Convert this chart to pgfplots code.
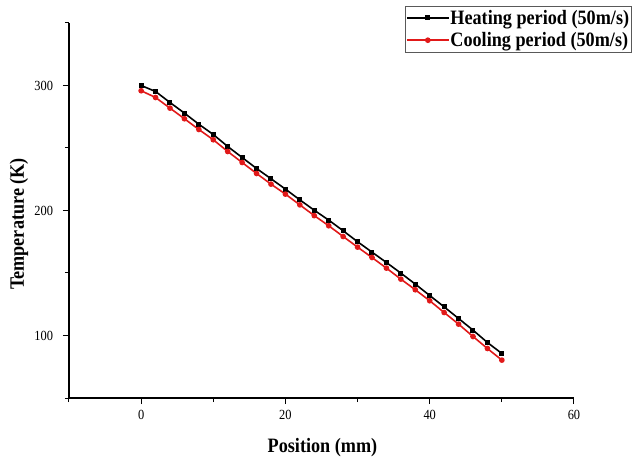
\documentclass[border=0pt]{standalone}
\usepackage{fontspec}
\setmainfont{Liberation Serif}[FakeStretch=0.89]
\usepackage{pgfplots}
\pgfplotsset{compat=1.18}
\usepackage{pgfplotstable}
\definecolor{myred}{RGB}{225,25,25}
\pgfplotstableread{
x y
0 300.0
2 295.2
4 286.4
6 277.9
8 269.0
10 260.8
12 251.2
14 242.4
16 233.6
18 225.4
20 217.1
22 208.5
24 200.2
26 192.3
28 183.8
30 175.0
32 166.7
34 158.4
36 149.9
38 141.1
40 132.0
42 122.9
44 113.6
46 104.3
48 94.4
50 85.6
}\heating
\pgfplotstableread{
x y
0 295.8
2 290.4
4 281.9
6 273.4
8 264.8
10 256.6
12 247.2
14 238.4
16 229.6
18 221.1
20 213.1
22 204.5
24 195.9
26 187.8
28 179.2
30 170.7
32 162.4
34 153.9
36 145.1
38 136.6
40 127.8
42 118.4
44 109.1
46 99.2
48 89.6
50 80.3
}\cooling
\begin{document}
\begin{tikzpicture}
\useasboundingbox (-69bp,-62bp) rectangle (571bp,398bp);
\begin{axis}[
  at={(0,0)}, anchor=south west,
  scale only axis, width=505bp, height=375bp,
  xmin=-10, xmax=60, ymin=50, ymax=350,
  axis x line*=bottom, axis y line*=left,
  axis line style={line width=1.2bp, -},
  xtick={0,20,40,60}, minor xtick={-10,10,30,50},
  ytick={100,200,300}, minor ytick={50,150,250,350},
  tick align=outside, major tick length=6bp, minor tick length=4bp,
  every tick/.style={line width=1bp, black},
  xticklabels={0,20,40,60},
  yticklabels={100,200,300},
  every tick label/.append style={font=\fontsize{14}{14}\selectfont},
  xticklabel style={yshift=-2.5bp},
  yticklabel style={xshift=-6.5bp},
  xlabel={Position (mm)},
  ylabel={Temperature (K)},
  xlabel style={at={(axis description cs:0.502,-0.131)}, anchor=center, font=\bfseries\fontsize{20.5}{20.5}\selectfont},
  ylabel style={at={(axis description cs:-0.099,0.464)}, anchor=center, font=\bfseries\fontsize{20.5}{20.5}\selectfont},
  legend style={at={(0.665,1.045)}, anchor=north west, draw=black!65,
    font=\bfseries\fontsize{20.5}{22}\selectfont, inner xsep=1bp, inner ysep=3bp,
    row sep=5bp, nodes={inner sep=0.8bp}},
  legend cell align=left,
  legend image code/.code={\draw[#1,mark repeat=2,mark phase=2] plot coordinates {(0bp,0bp) (21bp,0bp) (42bp,0bp)};},
]
\addplot[black, line width=1.6bp, mark=square*, mark size=1.7bp, mark options={solid}] table[x=x,y=y] {\heating};
\addlegendentry{Heating period (50m/s)}
\addplot[myred, line width=1.6bp, mark=*, mark size=2bp, mark options={solid}] table[x=x,y=y] {\cooling};
\addlegendentry{Cooling period (50m/s)}
\end{axis}
\end{tikzpicture}
\end{document}
